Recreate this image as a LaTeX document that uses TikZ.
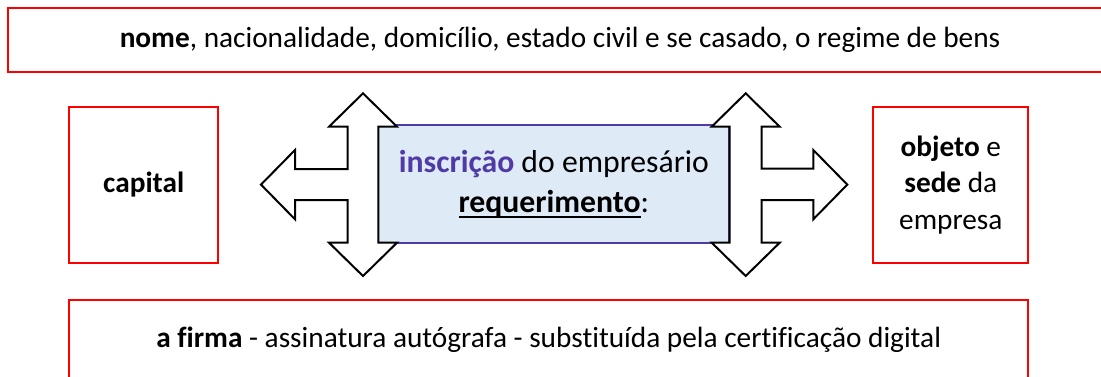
\documentclass[tikz,border=0pt]{standalone}
\usepackage{fontspec}
\setmainfont{Carlito}[Ligatures=CommonOff]
\newcommand\myuline[1]{\setbox0\hbox{#1}\rlap{\rule[-5pt]{\wd0}{1.8pt}}\box0}
\definecolor{boxred}{RGB}{255,0,0}
\definecolor{inscr}{RGB}{80,58,165}
\definecolor{lightblue}{RGB}{222,235,247}
\tikzset{
  redbox/.style={draw=boxred, line width=2pt, fill=white, inner sep=0pt, align=center},
  bigtext/.style={font=\fontsize{29.3}{36.5}\selectfont},
  centerbox/.style={draw=inscr, line width=2pt, fill=lightblue, inner sep=0pt, align=center,
    font=\fontsize{31.7}{40}\selectfont},
  arrowshape/.style={draw=black, line width=2pt, fill=white, line join=miter}
}
\begin{document}
\begin{tikzpicture}[x=1pt,y=-1pt]
\clip (0,0) rectangle (1101,376);
\fill[white] (0,0) rectangle (1101,376);
% top box
\node[redbox, bigtext, minimum width=1105pt, minimum height=64pt] (top) at (560,40)
  {\textbf{nome}, nacionalidade, domicílio, estado civil e se casado, o regime de bens};
% bottom box
\node[redbox, bigtext, anchor=base, minimum width=959.3pt, text height=47pt, text depth=36pt] (firma) at (548.7,347)
  {\textbf{a firma} - assinatura autógrafa - substituída pela certificação digital};
% side boxes
\node[redbox, bigtext, minimum width=149.3pt, minimum height=156.6pt] (capital) at (143.7,185)
  {\textbf{capital}};
\node[redbox, bigtext, minimum width=155pt, minimum height=156.6pt] (objeto) at (950.8,185)
  {\textbf{objeto} e\\ \textbf{sede} da\\ empresa};
% central box
\node[centerbox, minimum width=351pt, minimum height=117.7pt] (insc) at (553.8,183.9)
  {\textbf{\color{inscr}inscrição} do empresário\\ \textbf{\myuline{requerimento}}:};
% left three-way arrow
\draw[arrowshape] (363,93.3) -- (397,126.7) -- (378.3,126.7) -- (378.3,242.7) -- (397,242.7)
  -- (363,276) -- (329,242.7) -- (347.7,242.7) -- (347.7,200) -- (295,200) -- (295,219.3)
  -- (261,184.6) -- (295,150) -- (295,169) -- (347.7,169) -- (347.7,126.7) -- (329,126.7) -- cycle;
% right three-way arrow
\draw[arrowshape] (745.7,93.3) -- (779.7,126.7) -- (761.7,126.7) -- (761.7,168.5) -- (813.3,168.5)
  -- (813.3,150) -- (847.3,184.6) -- (813.3,219.3) -- (813.3,200) -- (761.7,200) -- (761.7,242.7)
  -- (779.7,242.7) -- (745.7,276) -- (711.7,242.7) -- (729.7,242.7) -- (729.7,126.7) -- (711.7,126.7) -- cycle;
\end{tikzpicture}
\end{document}
